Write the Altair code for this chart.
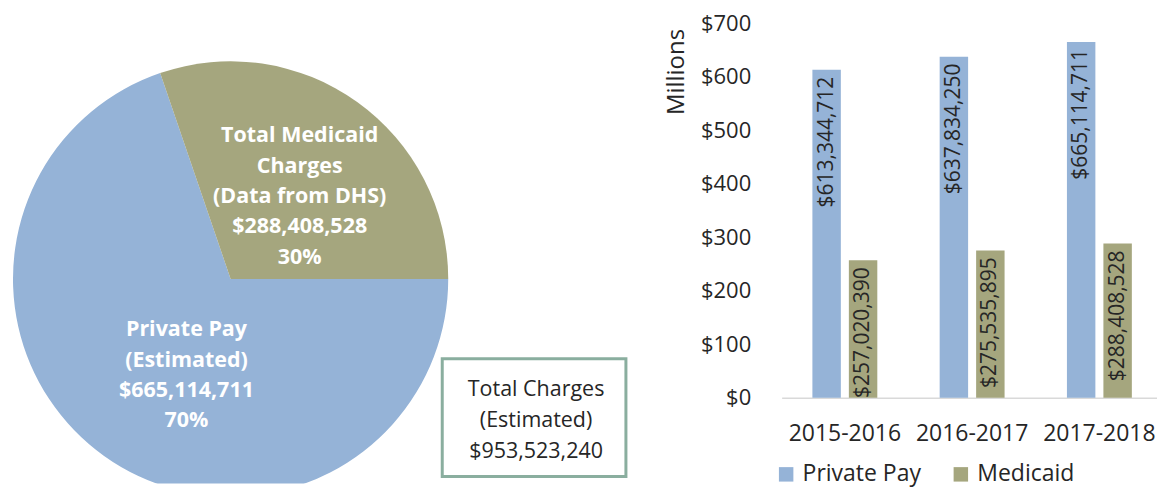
import math
import altair as alt
import pandas as pd

# ---------------- data ----------------
pie_keys = ["Private Pay", "Total Medicaid"]
pie_values = [665114711, 288408528]
pie_labels = [
    "Private Pay\n(Estimated)\n$665,114,711\n70%",
    "Total Medicaid\nCharges\n(Data from DHS)\n$288,408,528\n30%",
]
total_label = "Total Charges\n(Estimated)\n$953,523,240"

years = ["2015-2016", "2016-2017", "2017-2018"]
series = ["Private Pay", "Medicaid"]
private_pay = [613344712, 637834250, 665114711]
medicaid = [257020390, 275535895, 288408528]

BLUE = "#95B3D7"
OLIVE = "#A5A67E"
BOX = "#8AAE9F"
TXT = "#262626"
FONT = "Open Sans"

pie_df = pd.DataFrame({"key": pie_keys, "value": pie_values,
                       "label": pie_labels, "ord": [0, 1]})
box_df = pd.DataFrame({"label": [total_label]})

rows = []
for i, y in enumerate(years):
    rows.append({"year": y, "series": series[0], "value": private_pay[i]})
    rows.append({"year": y, "series": series[1], "value": medicaid[i]})
bar_df = pd.DataFrame(rows)

# ---------------- pie panel ----------------
TOP = 24  # page y of the panels' top edge
CX, CY, R = 223, 280 - TOP, 218
theta_scale = alt.Scale(range=[math.pi / 2, math.pi / 2 + 2 * math.pi])

base = alt.Chart(pie_df).encode(
    theta=alt.Theta("value:Q", stack=True, scale=theta_scale),
    order=alt.Order("ord:Q"),
    x=alt.value(CX),
    y=alt.value(CY),
)

arcs = base.mark_arc(radius=R, clip=True).encode(
    color=alt.Color("key:N", scale=alt.Scale(domain=pie_keys, range=[BLUE, OLIVE]),
                    legend=None)
)

LH = 30.5

def pie_text(key, n_lines, dx, dy):
    return base.mark_text(
        radius=107, dx=dx, dy=dy - (n_lines - 1) * LH / 2, lineBreak="\n",
        lineHeight=LH, font=FONT, fontSize=21.5, fontWeight="bold", color="white",
        align="center", baseline="middle",
    ).encode(
        text=alt.condition(alt.datum.key == key, "label:N", alt.value(""))
    )

med_text = pie_text("Total Medicaid", 5, 7, 5)
pp_text = pie_text("Private Pay", 4, 18, 10)

box = alt.Chart(box_df).mark_rect(
    fill="white", stroke=BOX, strokeWidth=3
).encode(x=alt.value(435), x2=alt.value(619),
         y=alt.value(360 - TOP), y2=alt.value(478 - TOP))

box_text = alt.Chart(box_df).mark_text(
    lineBreak="\n", lineHeight=31, font=FONT, fontSize=21.5, color=TXT,
    align="center", baseline="middle",
).encode(text="label:N", x=alt.value(529), y=alt.value(391 - TOP))

left = alt.layer(arcs, med_text, pp_text, box, box_text).properties(
    width=620, height=485 - TOP
)

# ---------------- bar panel ----------------
bar_base = alt.Chart(bar_df).transform_calculate(
    millions="datum.value / 1000000"
).encode(
    x=alt.X("year:N", sort=years,
            scale=alt.Scale(paddingInner=0.49, paddingOuter=0.2196, align=0.55),
            axis=alt.Axis(title=None, labelAngle=0, ticks=False, tickSize=0,
                          domainColor="#D9D9D9", domainWidth=1.5,
                          labelFontSize=23, labelPadding=25, labelColor=TXT,
                          labelFont=FONT)),
    xOffset=alt.XOffset("series:N", sort=series,
                        scale=alt.Scale(paddingInner=0.22, paddingOuter=0)),
    y=alt.Y("millions:Q", scale=alt.Scale(domain=[0, 700]),
            axis=alt.Axis(values=[0, 100, 200, 300, 400, 500, 600, 700],
                          format="$,.0f", grid=False, domain=False, ticks=False,
                          tickSize=0, labelPadding=31, labelFontSize=22,
                          labelColor=TXT, labelFont=FONT,
                          title="Millions", titleFont=FONT, titleFontSize=24,
                          titleFontWeight="normal", titleColor=TXT,
                          titleAngle=270, titleAlign="right",
                          titleBaseline="middle", titleX=-105, titleY=5)),
)

bars = bar_base.mark_bar().encode(
    color=alt.Color("series:N", sort=series,
                    scale=alt.Scale(domain=series, range=[BLUE, OLIVE]),
                    legend=alt.Legend(title=None, orient="none", legendX=-7,
                                      legendY=440, direction="horizontal",
                                      symbolType="square", symbolSize=210,
                                      symbolStrokeWidth=0, labelFontSize=23,
                                      labelFont=FONT, labelColor=TXT,
                                      labelOffset=5, columnPadding=28,
                                      padding=0))
)

bar_text = bar_base.mark_text(
    angle=270, align="right", baseline="middle", dx=-7,
    font=FONT, fontSize=21, color=TXT,
).encode(text=alt.Text("value:Q", format="$,.0f"))

right = alt.layer(bars, bar_text).properties(width=376, height=375)

chart = alt.hconcat(
    left, right, spacing=37,
    padding={"top": 4, "left": 0, "right": 0, "bottom": 0},
).resolve_scale(
    color="independent"
).configure(font=FONT).configure_view(stroke=None, strokeWidth=0)

chart.save("out.html", embed_options={"renderer": "svg", "actions": False})
